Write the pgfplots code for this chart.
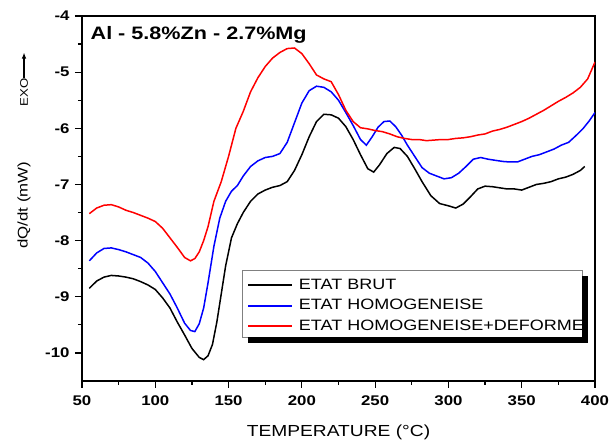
\documentclass[border=0pt]{standalone}
\usepackage{fontspec}
\setmainfont{Liberation Sans}[FakeStretch=1.2]
\usepackage{pgfplots}
\pgfplotsset{compat=1.18}
\usetikzlibrary{arrows.meta}

\begin{document}
\begin{tikzpicture}
\begin{axis}[name=ax, scale only axis, width=513pt, height=365pt,
  xmin=50, xmax=400, ymin=-10.5, ymax=-4,
  xtick={50,100,...,400}, ytick={-10,-9,...,-4},
  minor x tick num=1, minor y tick num=1,
  tick pos=left, tick align=outside,
  major tick length=7pt, minor tick length=4pt,
  every tick/.style={line width=1.2pt, black},
  axis line style={line width=1.6pt},
  /pgf/number format/assume math mode=true,
  tick label style={font=\fontsize{14}{17}\selectfont\bfseries},
  xticklabel style={yshift=-4pt},
  yticklabel style={xshift=-2pt},
  legend style={at={(axis description cs:0.3216,0.2863)}, anchor=north west,
    draw=none, fill=none, inner sep=0pt, row sep=5pt,
    font=\fontsize{15}{18}\selectfont},
  legend cell align=left,
  legend image code/.code={\draw[#1, line width=2pt] (0pt,0pt) -- (44pt,0pt); \path (48pt,0pt);},
  clip mode=individual
]
\addplot[black, line width=1.5pt] coordinates {
(55,-8.85)(60,-8.72)(65,-8.65)(70,-8.62)(75,-8.63)(80,-8.65)(85,-8.68)(90,-8.73)(95,-8.79)(100,-8.87)
(105,-9.02)(110,-9.2)(115,-9.45)(120,-9.68)(125,-9.92)(130,-10.08)(133,-10.12)(136,-10.05)(139,-9.85)
(142,-9.45)(145,-8.95)(148,-8.45)(152,-7.95)(156,-7.7)(160,-7.5)(165,-7.3)(170,-7.17)(175,-7.1)(180,-7.05)
(185,-7.02)(190,-6.95)(195,-6.75)(200,-6.47)(205,-6.15)(210,-5.88)(215,-5.75)(220,-5.76)(225,-5.82)
(230,-5.97)(235,-6.2)(240,-6.47)(245,-6.72)(249,-6.78)(253,-6.65)(258,-6.45)(263,-6.34)(267,-6.36)
(272,-6.5)(277,-6.72)(282,-6.95)(288,-7.2)(294,-7.34)(300,-7.38)(305,-7.42)(310,-7.35)(315,-7.22)
(320,-7.08)(325,-7.03)(330,-7.04)(335,-7.06)(340,-7.08)(345,-7.08)(350,-7.1)(355,-7.05)(360,-7.0)
(365,-6.98)(370,-6.95)(375,-6.9)(380,-6.87)(385,-6.82)(390,-6.75)(393,-6.68)
};
\addlegendentry{ETAT BRUT}
\addplot[blue, line width=1.5pt] coordinates {
(55,-8.36)(60,-8.22)(65,-8.14)(70,-8.13)(75,-8.16)(80,-8.2)(85,-8.25)(90,-8.3)(95,-8.4)(100,-8.55)
(105,-8.75)(110,-8.95)(115,-9.2)(120,-9.47)(124,-9.6)(127,-9.62)(130,-9.48)(133,-9.2)(136,-8.75)
(140,-8.1)(144,-7.6)(148,-7.3)(152,-7.12)(156,-7.02)(160,-6.85)(165,-6.68)(170,-6.58)(175,-6.52)
(180,-6.5)(185,-6.45)(190,-6.25)(195,-5.9)(200,-5.55)(205,-5.33)(210,-5.25)(215,-5.27)(220,-5.35)
(225,-5.5)(230,-5.72)(235,-5.95)(240,-6.2)(244,-6.3)(248,-6.15)(252,-5.98)(256,-5.88)(260,-5.87)
(264,-5.97)(268,-6.12)(272,-6.3)(277,-6.5)(282,-6.7)(287,-6.8)(292,-6.85)(297,-6.9)(302,-6.88)
(307,-6.8)(312,-6.68)(317,-6.55)(322,-6.52)(327,-6.55)(332,-6.57)(337,-6.59)(342,-6.6)(347,-6.6)
(352,-6.55)(357,-6.5)(362,-6.47)(367,-6.42)(372,-6.37)(377,-6.3)(382,-6.25)(387,-6.13)(392,-6.0)
(396,-5.87)(400,-5.72)
};
\addlegendentry{ETAT HOMOGENEISE}
\addplot[red, line width=1.5pt] coordinates {
(55,-7.52)(60,-7.42)(65,-7.37)(70,-7.36)(75,-7.4)(80,-7.46)(85,-7.5)(90,-7.55)(95,-7.6)(100,-7.66)
(105,-7.78)(110,-7.95)(115,-8.12)(120,-8.3)(124,-8.36)(127,-8.32)(130,-8.2)(133,-8.0)(136,-7.75)
(140,-7.3)(145,-6.95)(150,-6.5)(155,-6.0)(160,-5.7)(165,-5.35)(170,-5.1)(175,-4.9)(180,-4.75)
(185,-4.65)(190,-4.58)(195,-4.57)(200,-4.67)(205,-4.85)(210,-5.05)(215,-5.12)(220,-5.17)(225,-5.4)
(230,-5.68)(235,-5.88)(240,-5.99)(245,-6.01)(250,-6.04)(255,-6.06)(260,-6.1)(265,-6.15)(270,-6.18)
(275,-6.2)(280,-6.2)(285,-6.22)(290,-6.21)(295,-6.2)(300,-6.2)(305,-6.18)(310,-6.17)(315,-6.15)
(320,-6.12)(325,-6.1)(330,-6.05)(335,-6.02)(340,-5.98)(345,-5.93)(350,-5.88)(355,-5.82)(360,-5.75)
(365,-5.68)(370,-5.6)(375,-5.52)(380,-5.45)(385,-5.37)(390,-5.27)(395,-5.12)(400,-4.82)
};
\addlegendentry{ETAT HOMOGENEISE+DEFORME}
% legend frame (drawn before the legend entries)
\draw[gray, line width=0.8pt, fill=white] (axis description cs:0.3119,0.3041) rectangle (axis description cs:0.9747,0.1205);
\node[anchor=west, font=\fontsize{18}{22}\selectfont\bfseries] at (axis description cs:0.010,0.948) {Al - 5.8\%Zn - 2.7\%Mg};
\node[rotate=90, font=\fontsize{14}{17}\selectfont] at (axis description cs:-0.113,0.482) {dQ/dt (mW)};
\node[rotate=90, font=\fontsize{11}{13}\selectfont] at (axis description cs:-0.113,0.790) {EXO};
\draw[-{Latex[length=6pt,width=4.5pt]}, line width=1.1pt] (axis description cs:-0.113,0.830) -- (axis description cs:-0.113,0.900);
\node[font=\fontsize{16}{19}\selectfont] at (axis description cs:0.5,-0.14) {TEMPERATURE (°C)};
\end{axis}
% legend shadow (right and bottom strips)
\fill[black] ([shift={(500pt,38pt)}]ax.south west) rectangle ([shift={(506pt,105pt)}]ax.south west);
\fill[black] ([shift={(166pt,38pt)}]ax.south west) rectangle ([shift={(506pt,44pt)}]ax.south west);
\pgfresetboundingbox
\path (ax.south west) ++(-82pt,-59pt) rectangle ([xshift=18pt,yshift=16pt]ax.north east);
\end{tikzpicture}
\end{document}
